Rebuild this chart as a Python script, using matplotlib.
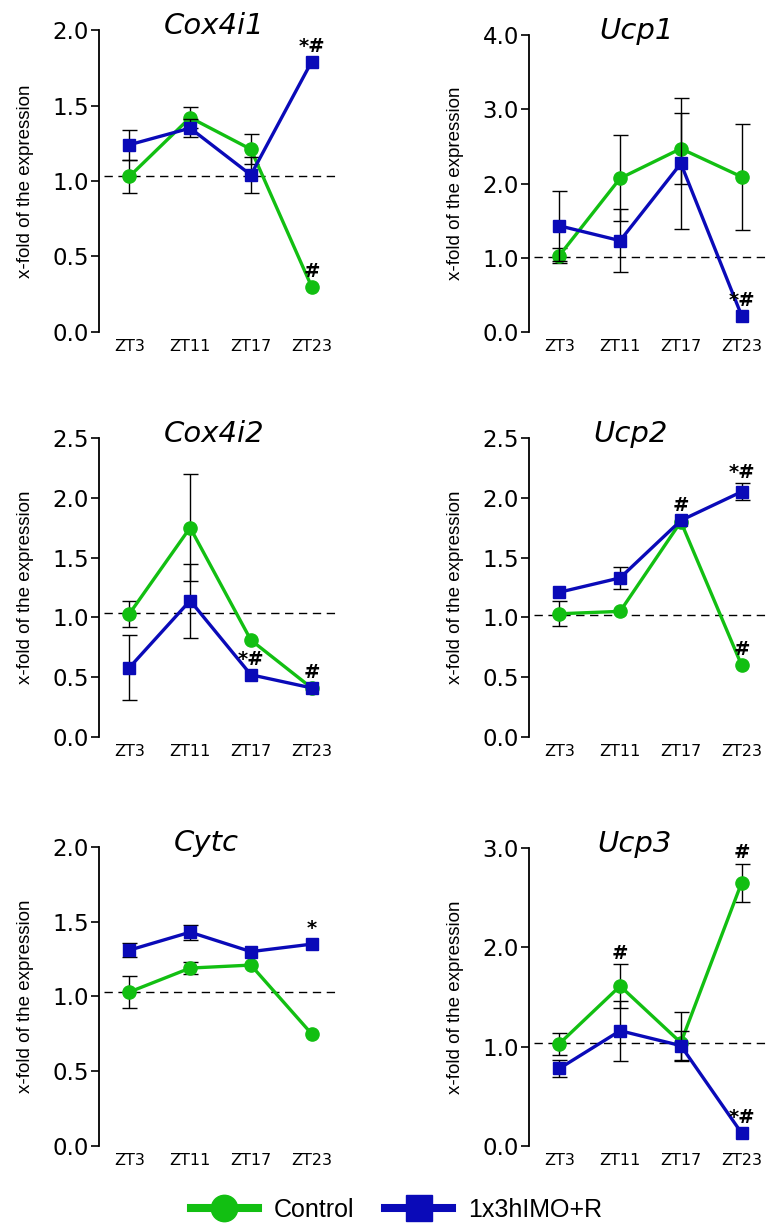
import numpy as np
import matplotlib
matplotlib.use('Agg')
import matplotlib.pyplot as plt
from matplotlib.lines import Line2D
from matplotlib.ticker import FormatStrFormatter

# Horas del ciclo
horas = ['ZT3', 'ZT11', 'ZT17', 'ZT23']
grupos = ['Control', '1x3hIMO+R']
genes = ['Cox4i1', 'Ucp1', 'Cox4i2', 'Ucp2', 'Cytc', 'Ucp3']

# x-fold de la expresion (media) y error; un par (abajo, arriba) = error asimetrico
cox4i1_control = [1.03, 1.42, 1.21, 0.30]
cox4i1_control_err = [0.11, 0.07, 0.10, 0]
cox4i1_imo = [1.24, 1.35, 1.04, 1.79]
cox4i1_imo_err = [0.10, 0.06, 0.12, 0]

ucp1_control = [1.03, 2.07, 2.47, 2.09]
ucp1_control_err = [0.10, 0.58, 0.48, 0.71]
ucp1_imo = [1.43, 1.23, 2.27, 0.22]
ucp1_imo_err = [0.47, 0.42, 0.88, 0]

cox4i2_control = [1.03, 1.75, 0.81, 0.41]
cox4i2_control_err = [0.11, 0.45, 0, 0]
cox4i2_imo = [0.58, 1.14, 0.52, 0.41]
cox4i2_imo_err = [0.27, 0.31, 0, 0]

ucp2_control = [1.03, 1.05, 1.80, 0.60]
ucp2_control_err = [0.105, 0, 0, 0]
ucp2_imo = [1.21, 1.33, 1.81, 2.05]
ucp2_imo_err = [0, 0.09, 0, 0.07]

cytc_control = [1.03, 1.19, 1.21, 0.75]
cytc_control_err = [0.105, 0.04, 0, 0]
cytc_imo = [1.31, 1.43, 1.30, 1.35]
cytc_imo_err = [0.045, 0.05, 0, 0]

ucp3_control = [1.03, 1.61, 1.04, 2.65]
ucp3_control_err = [0.11, 0.22, (0.17, 0.31), 0.19]
ucp3_imo = [0.78, 1.16, 1.01, 0.13]
ucp3_imo_err = [0.09, 0.30, 0.15, 0]

# nivel de referencia (linea punteada)
referencia = [1.03, 1.01, 1.035, 1.02, 1.03, 1.04]

# significancia: (grupo, indice de hora, texto)
cox4i1_marcas = [(1, 3, '*#'), (0, 3, '#')]
ucp1_marcas = [(1, 3, '*#')]
cox4i2_marcas = [(1, 2, '*#'), (1, 3, '#')]
ucp2_marcas = [(1, 2, '#'), (1, 3, '*#'), (0, 3, '#')]
cytc_marcas = [(1, 3, '*')]
ucp3_marcas = [(0, 1, '#'), (0, 3, '#'), (1, 3, '*#')]

# escalas del eje y
y_max = [2.0, 4.0, 2.5, 2.5, 2.0, 3.0]
y_paso = [0.5, 1.0, 0.5, 0.5, 0.5, 1.0]

controles = [cox4i1_control, ucp1_control, cox4i2_control, ucp2_control, cytc_control, ucp3_control]
controles_err = [cox4i1_control_err, ucp1_control_err, cox4i2_control_err,
                 ucp2_control_err, cytc_control_err, ucp3_control_err]
imos = [cox4i1_imo, ucp1_imo, cox4i2_imo, ucp2_imo, cytc_imo, ucp3_imo]
imos_err = [cox4i1_imo_err, ucp1_imo_err, cox4i2_imo_err, ucp2_imo_err, cytc_imo_err, ucp3_imo_err]
marcas = [cox4i1_marcas, ucp1_marcas, cox4i2_marcas, ucp2_marcas, cytc_marcas, ucp3_marcas]

verde = '#12bf12'
azul = '#0a0ab8'
colores = [verde, azul]
simbolos = ['o', 's']

# posicion de cada panel en la figura (767 x 1225 px)
paneles = [[0.1291, 0.7290, 0.3168, 0.2465],
           [0.6897, 0.7290, 0.3168, 0.2424],
           [0.1291, 0.3984, 0.3168, 0.2441],
           [0.6897, 0.3984, 0.3168, 0.2441],
           [0.1291, 0.0645, 0.3168, 0.2441],
           [0.6897, 0.0645, 0.3168, 0.2433]]
titulo_x = [1.4, 1.27, 1.4, 1.17, 1.27, 1.24]


def separar_err(err):
    abajo = [e[0] if isinstance(e, tuple) else e for e in err]
    arriba = [e[1] if isinstance(e, tuple) else e for e in err]
    return np.array(abajo), np.array(arriba)


fig = plt.figure(figsize=(7.67, 12.25), dpi=100)
x = np.arange(len(horas))

for i, gen in enumerate(genes):
    ax = fig.add_axes(paneles[i])
    derecha = i % 2 == 1

    # linea de referencia
    fin = 3.62 if derecha else 3.43
    ax.plot([-0.42, fin], [referencia[i], referencia[i]], color='black', lw=1.0,
            dashes=(6, 4), zorder=1, clip_on=False)

    series = [(controles[i], controles_err[i]), (imos[i], imos_err[i])]
    for g, (valores, err) in enumerate(series):
        valores = np.array(valores)
        abajo, arriba = separar_err(err)
        con_err = (abajo > 0) | (arriba > 0)
        if con_err.any():
            ax.errorbar(x[con_err], valores[con_err], yerr=[abajo[con_err], arriba[con_err]],
                        fmt='none', ecolor='black', elinewidth=1.0, capsize=5.4,
                        capthick=1.0, zorder=2 + g)
        ax.plot(x, valores, color=colores[g], lw=2.4, marker=simbolos[g],
                ms=9.5 if g == 0 else 9.0, zorder=3 + g, clip_on=False)

    # asteriscos y almohadillas
    for g, h, texto in marcas[i]:
        valores, err = series[g]
        abajo, arriba = separar_err(err)
        if arriba[h] > 0:
            y_txt = valores[h] + arriba[h]
            desp = 8
        else:
            y_txt = valores[h]
            desp = 11
        ax.annotate(texto, xy=(h, y_txt), xytext=(0, desp), textcoords='offset points',
                    ha='center', va='center', fontsize=14, fontweight='bold', zorder=6)

    ax.set_xlim(-0.5, 3.5)
    ax.set_ylim(0, y_max[i])
    ax.set_yticks(np.arange(0, y_max[i] + 0.001, y_paso[i]))
    ax.yaxis.set_major_formatter(FormatStrFormatter('%.1f'))
    ax.set_xticks(x)
    ax.set_xticklabels(horas)

    for lado in ['top', 'right', 'bottom']:
        ax.spines[lado].set_visible(False)
    ax.spines['left'].set_linewidth(1.3)
    ax.tick_params(axis='y', length=5.8, width=1.2, labelsize=16.5, pad=1.5)
    ax.tick_params(axis='x', length=0, labelsize=11.5, pad=5)

    ax.set_ylabel('x-fold of the expression', fontsize=13.5, family='Liberation Sans',
                  va='center')
    ax.yaxis.set_label_coords(-0.302, 0.5)

    ax.annotate(gen, xy=(titulo_x[i], 1.0), xycoords=('data', 'axes fraction'),
                xytext=(0, 3), textcoords='offset points', ha='center', va='center',
                fontsize=21, style='italic')

# leyenda comun
manijas = [Line2D([], [], color=colores[g], lw=5.8, marker=simbolos[g], ms=19)
           for g in range(2)]
fig.legend(manijas, grupos, loc='center', bbox_to_anchor=(0.517, 0.0125), ncol=2,
           frameon=False, handlelength=2.67, handletextpad=0.64, columnspacing=1.24,
           borderpad=0, prop={'family': 'Liberation Sans', 'size': 18})

fig.savefig('out.png', dpi=100)
